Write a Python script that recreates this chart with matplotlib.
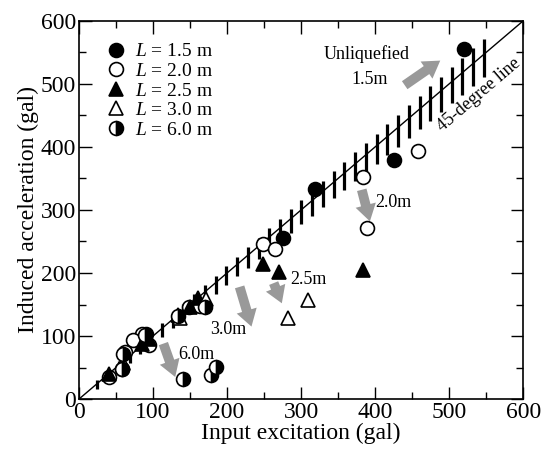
import numpy as np
import matplotlib
matplotlib.use('Agg')
import matplotlib.pyplot as plt

plt.rcParams['font.family'] = ['Liberation Serif', 'DejaVu Serif']
plt.rcParams['mathtext.fontset'] = 'custom'
plt.rcParams['mathtext.it'] = 'Liberation Serif:italic'
plt.rcParams['mathtext.rm'] = 'Liberation Serif'

# data (gal)
x_15 = [520, 426, 319, 276, 90, 58]
y_15 = [555, 379, 333, 256, 103, 47]
x_20 = [458, 383, 389, 248, 265, 85, 73, 94, 62, 40, 148, 163]
y_20 = [394, 353, 271, 246, 238, 104, 94, 86, 75, 35, 146, 148]
x_25 = [383, 248, 270, 40, 85, 94, 134, 150, 161]
y_25 = [205, 214, 202, 40, 87, 95, 133, 146, 160]
x_30 = [309, 283, 172, 137, 60]
y_30 = [157, 128, 158, 128, 57]
x_60 = [140, 178, 185, 89, 60, 58, 170, 134]
y_60 = [32, 38, 51, 101, 72, 48, 146, 132]

labels = ['$L$ = 1.5 m', '$L$ = 2.0 m', '$L$ = 2.5 m', '$L$ = 3.0 m', '$L$ = 6.0 m']

# annotation arrows: (tail, tip) and labels
arrows = [((440, 498), (488, 537)),
          ((382, 332), (393, 282)),
          ((263, 184), (274, 152)),
          ((217, 178), (233, 115)),
          ((114, 88), (130, 35))]
notes = [('Unliquefied', 389, 548), ('1.5m', 393, 507), ('2.0m', 425, 312),
         ('2.5m', 310, 189), ('3.0m', 202, 111), ('6.0m', 159, 71)]

fig = plt.figure(figsize=(5.41, 4.54), dpi=100)
ax = fig.add_axes([0.146, 0.121, 0.821, 0.833])

# 45-degree line with hatching
ax.plot([0, 600], [0, 600], color='black', lw=1.0, zorder=2)
hx = np.arange(25, 560, 14.5)
hl = 0.09 * hx + 12
ax.vlines(hx, hx - 0.6 * hl, hx + 0.4 * hl, color='black', lw=2.3, zorder=2)

for (tail, tip) in arrows:
    ax.annotate('', xy=tip, xytext=tail,
                arrowprops=dict(arrowstyle='simple,head_length=0.6,head_width=0.75,tail_width=0.35',
                                fc='#999999', ec='none', mutation_scale=20, shrinkA=0, shrinkB=0),
                zorder=3)
for t, x, y in notes:
    ax.text(x, y, t, fontsize=13, ha='center', va='center', zorder=4)
ax.text(540, 482, '45-degree line', fontsize=13, rotation=40.5, ha='center', va='center',
        rotation_mode='anchor')

ms = 10
ax.plot(x_15, y_15, 'o', ms=ms, mfc='black', mec='black', mew=1.2, ls='none', label=labels[0], zorder=5)
ax.plot(x_20, y_20, 'o', ms=ms, mfc='white', mec='black', mew=1.2, ls='none', label=labels[1], zorder=5)
ax.plot(x_25, y_25, '^', ms=ms, mfc='black', mec='black', mew=1.2, ls='none', label=labels[2], zorder=5)
ax.plot(x_30, y_30, '^', ms=ms, mfc='white', mec='black', mew=1.2, ls='none', label=labels[3], zorder=5)
ax.plot(x_60, y_60, 'o', ms=ms, fillstyle='right', mfc='black', mfcalt='white', mec='black',
        mew=1.2, ls='none', label=labels[4], zorder=5)

ax.legend(loc='upper left', bbox_to_anchor=(0.02, 0.978), frameon=False, fontsize=14,
          handletextpad=0.2, labelspacing=0.1, handlelength=1.5, borderpad=0.2)

ax.set_xlim(0, 600)
ax.set_ylim(0, 600)
ax.set_xticks(np.arange(0, 601, 100))
ax.set_yticks(np.arange(0, 601, 100))
ax.set_xticks(np.arange(50, 600, 100), minor=True)
ax.set_yticks(np.arange(50, 600, 100), minor=True)
ax.tick_params(which='both', direction='in', top=True, right=True, labelsize=17, width=1.0)
ax.tick_params(which='major', length=9)
ax.tick_params(which='minor', length=5)
ax.tick_params(axis='x', pad=2)
ax.tick_params(axis='y', pad=2)
for s in ax.spines.values():
    s.set_linewidth(1.2)
ax.set_xlabel('Input excitation (gal)', fontsize=17, labelpad=0)
ax.set_ylabel('Induced acceleration (gal)', fontsize=17, labelpad=1)

fig.savefig('out.png', dpi=100)
